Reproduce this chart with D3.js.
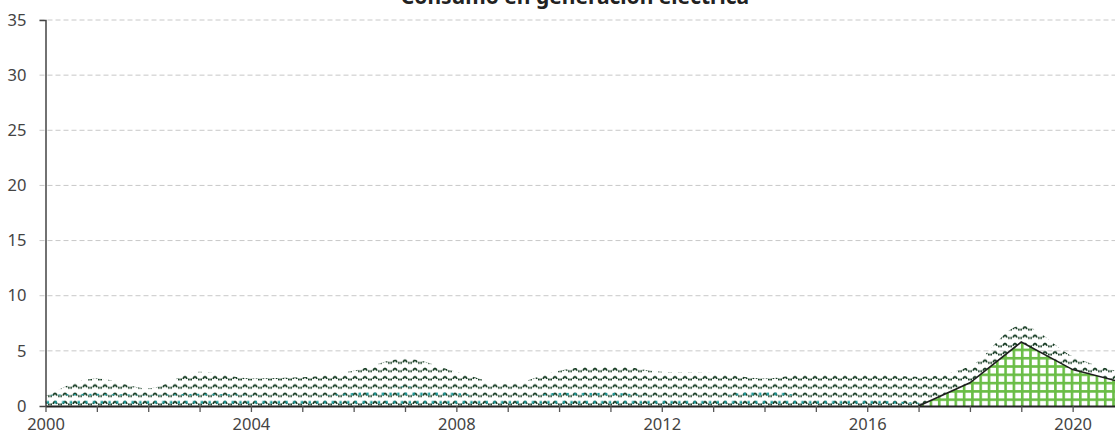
<!DOCTYPE html>
<html lang="es">
<head>
<meta charset="utf-8">
<script src="https://cdn.jsdelivr.net/npm/d3@7"></script>
<style>
  html, body { margin: 0; padding: 0; background: #fff; overflow: hidden; }
  svg { display: block; }
  text { font-family: "Noto Sans", Lato, sans-serif; }
</style>
</head>
<body>
<svg id="chart" width="1115" height="438"></svg>
<script>
// Annual consumption (years 2000–2021)
const years = [2000, 2001, 2002, 2003, 2004, 2005, 2006, 2007, 2008, 2009, 2010,
               2011, 2012, 2013, 2014, 2015, 2016, 2017, 2018, 2019, 2020, 2021];
// total consumption envelope (wave-pattern layer)
const consumoTotal = [0.9, 2.5, 1.6, 3.1, 2.5, 2.6, 3.2, 4.3, 3.1, 2.0, 3.2,
                      3.7, 3.1, 3.0, 2.5, 3.0, 2.95, 2.65, 3.6, 7.3, 4.5, 3.0];
// base fuel (dotted layer)
const consumoBase = [1.0, 1.1, 1.0, 1.1, 1.0, 0.9, 1.2, 1.8, 1.2, 0.6, 1.2,
                     1.2, 0.9, 0.9, 1.4, 0.7, 0.6, 0.3, 0.1, 0.1, 0.05, 0.05];
// new fuel from 2017 (grid layer)
const consumoNuevo = [null, null, null, null, null, null, null, null, null, null, null,
                      null, null, null, null, null, null, 0, 2.1, 5.8, 3.3, 2.1];
const yTicks = [0, 5, 10, 15, 20, 25, 30, 35];
const xLabelYears = [2000, 2004, 2008, 2012, 2016, 2020];
const title = "Consumo en generación eléctrica";

const svg = d3.select("#chart");
const W = 1115, H = 438;
const mLeft = 45.5, mTop = 20, mBottom = 406, mRight = 1124;

const x = d3.scaleLinear().domain([2000, 2021]).range([mLeft, mRight]);
const y = d3.scaleLinear().domain([0, 35]).range([mBottom, mTop]);

const data = years.map((yr, i) => ({
  year: yr, total: consumoTotal[i], base: consumoBase[i], nuevo: consumoNuevo[i]
}));

// fill patterns
const defs = svg.append("defs");

const wave = defs.append("pattern")
  .attr("id", "wave").attr("patternUnits", "userSpaceOnUse")
  .attr("width", 10).attr("height", 8.3);
wave.append("path")
  .attr("d", "M0.3,6 L2,6 M3,5.4 Q5,1.2 7,5.4 M8,6 L9.7,6")
  .attr("fill", "none").attr("stroke", "#153b22").attr("stroke-width", 1.9);

const dots = defs.append("pattern")
  .attr("id", "dots").attr("patternUnits", "userSpaceOnUse")
  .attr("width", 7.7).attr("height", 16.6);
dots.append("rect").attr("x", 0.5).attr("y", 2.6).attr("width", 2.4).attr("height", 2.6).attr("fill", "#17999a");
dots.append("rect").attr("x", 4.35).attr("y", 10.9).attr("width", 2.4).attr("height", 2.6).attr("fill", "#17999a");

const grid = defs.append("pattern")
  .attr("id", "grid").attr("patternUnits", "userSpaceOnUse")
  .attr("width", 8.3).attr("height", 8.3);
grid.append("rect").attr("width", 8.3).attr("height", 8.3).attr("fill", "#fff");
grid.append("rect").attr("x", 0).attr("y", 0).attr("width", 2.6).attr("height", 8.3).attr("fill", "#6abd46");
grid.append("rect").attr("x", 0).attr("y", 0).attr("width", 8.3).attr("height", 2.6).attr("fill", "#6abd46");

// horizontal dashed grid lines
svg.append("g").selectAll("line")
  .data(yTicks.filter(d => d > 0))
  .join("line")
  .attr("x1", mLeft - 6).attr("x2", W)
  .attr("y1", d => y(d)).attr("y2", d => y(d))
  .attr("stroke", "#c8c8c8").attr("stroke-width", 1)
  .attr("stroke-dasharray", "5,3");

// areas
const areaTotal = d3.area()
  .x(d => x(d.year)).y0(y(0)).y1(d => y(d.total))
  .curve(d3.curveMonotoneX);
const areaBase = d3.area()
  .x(d => x(d.year)).y0(y(0)).y1(d => y(d.base))
  .curve(d3.curveMonotoneX);
const nuevoData = data.filter(d => d.nuevo != null);
const areaNuevo = d3.area()
  .x(d => x(d.year)).y0(y(0)).y1(d => y(d.nuevo));
const lineNuevo = d3.line()
  .x(d => x(d.year)).y(d => y(d.nuevo));

svg.append("path").datum(data).attr("d", areaTotal).attr("fill", "url(#wave)");
svg.append("path").datum(data).attr("d", areaBase).attr("fill", "url(#dots)");
svg.append("path").datum(nuevoData).attr("d", areaNuevo).attr("fill", "url(#grid)");
svg.append("path").datum(nuevoData).attr("d", lineNuevo)
  .attr("fill", "none").attr("stroke", "#1e1e1e").attr("stroke-width", 1.6);

// y axis
const yAxis = d3.axisLeft(y).tickValues(yTicks).tickSize(0).tickSizeOuter(6).tickPadding(19);
const gy = svg.append("g").attr("transform", `translate(${mLeft},0)`).call(yAxis);
gy.select(".domain").attr("stroke", "#444").attr("stroke-width", 1.5);
gy.selectAll("text").attr("fill", "#444").style("font-size", "16.5px");

// x axis
const xAxis = d3.axisBottom(x)
  .tickValues(d3.range(2000, 2022))
  .tickSize(6).tickSizeOuter(0).tickPadding(6)
  .tickFormat(d => xLabelYears.includes(d) ? String(d) : "");
const gx = svg.append("g").attr("transform", `translate(0,${mBottom})`).call(xAxis);
gx.select(".domain").attr("stroke", "#222").attr("stroke-width", 2);
gx.selectAll(".tick line").attr("stroke", "#555").attr("stroke-width", 1.3);
gx.selectAll("text").attr("fill", "#444").style("font-size", "16.5px");

// title along the top edge of the chart
svg.append("text")
  .attr("x", 575).attr("y", 4)
  .attr("text-anchor", "middle")
  .attr("fill", "#222")
  .style("font-size", "21px").style("font-weight", "bold")
  .text(title);
</script>
</body>
</html>
